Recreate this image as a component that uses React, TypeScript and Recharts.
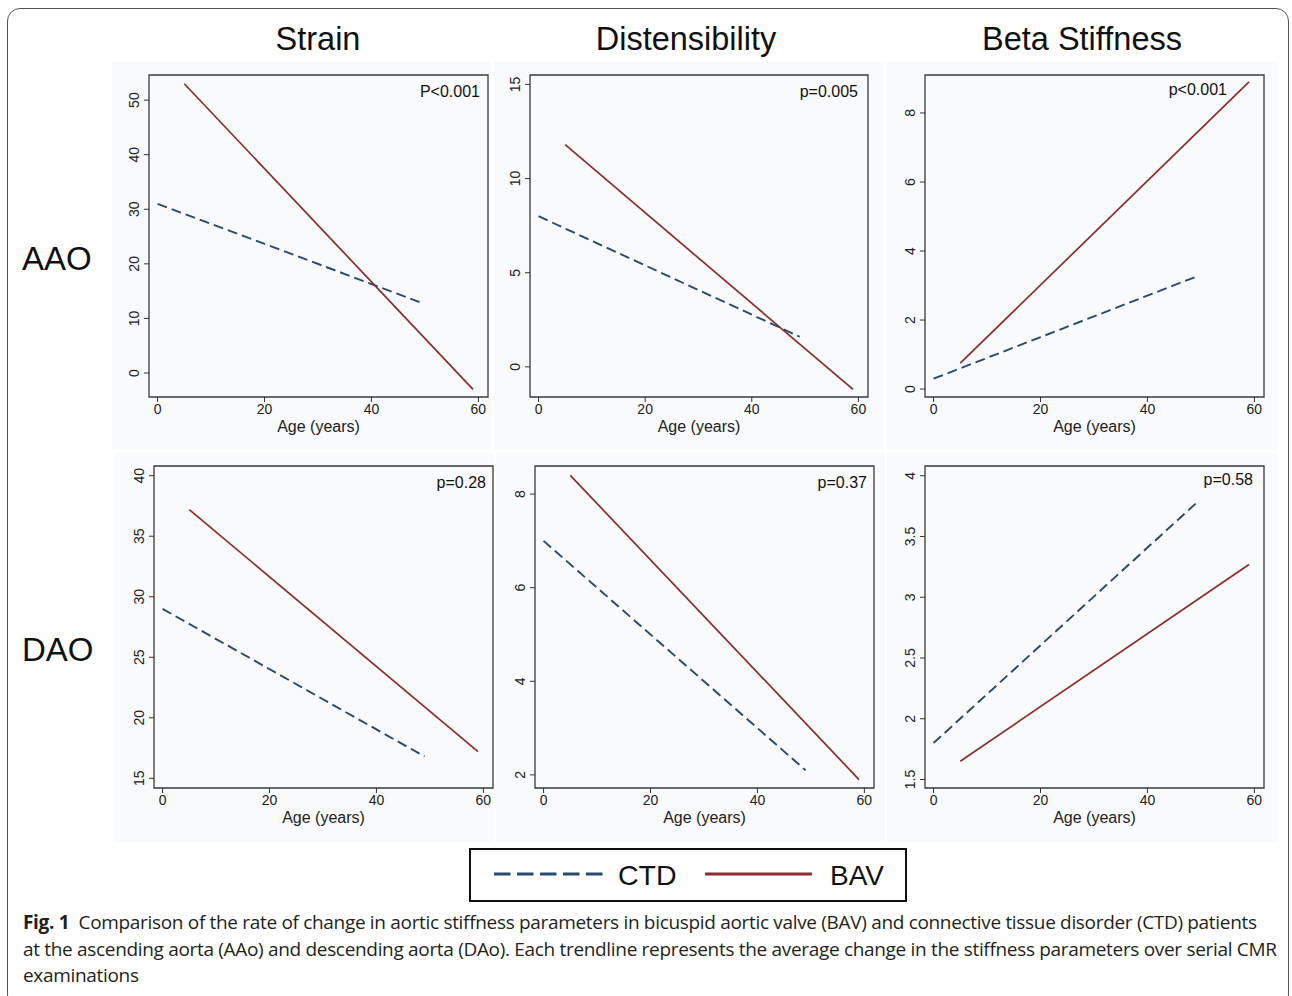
import React from 'react';
import { LineChart, Line, XAxis, YAxis, ReferenceArea } from 'recharts';

// ages at which each fitted trendline starts and ends
const AGE_CTD = [0, 49];
const AGE_BAV = [5, 59];
const AGE_TICKS = [0, 20, 40, 60];
const AGE_DOMAIN = [-1.6, 61.8];

// trendline end values
const STRAIN_AAO_CTD = [31, 13];
const STRAIN_AAO_BAV = [53, -3];
const DIST_AAO_CTD = [8, 1.6];
const DIST_AAO_BAV = [11.8, -1.2];
const BETA_AAO_CTD = [0.3, 3.25];
const BETA_AAO_BAV = [0.75, 8.9];
const STRAIN_DAO_CTD = [29, 16.8];
const STRAIN_DAO_BAV = [37.2, 17.2];
const DIST_DAO_CTD = [7, 2.1];
const DIST_DAO_BAV = [8.4, 1.9];
const BETA_DAO_CTD = [1.8, 3.77];
const BETA_DAO_BAV = [1.65, 3.27];

const STRAIN_AAO_TICKS = [0, 10, 20, 30, 40, 50];
const DIST_AAO_TICKS = [0, 5, 10, 15];
const BETA_AAO_TICKS = [0, 2, 4, 6, 8];
const STRAIN_DAO_TICKS = [15, 20, 25, 30, 35, 40];
const DIST_DAO_TICKS = [2, 4, 6, 8];
const BETA_DAO_TICKS = [1.5, 2, 2.5, 3, 3.5, 4];

const COLUMN_TITLES = ['Strain', 'Distensibility', 'Beta Stiffness'];
const ROW_TITLES = ['AAO', 'DAO'];
const P_VALUES = ['P<0.001', 'p=0.005', 'p<0.001', 'p=0.28', 'p=0.37', 'p=0.58'];

const BAV_COLOR = '#8c2b30';
const CTD_COLOR = '#264a70';
const FONT = '"Liberation Sans", Arial, sans-serif';

const toPoints = (ages: number[], vals: number[]) => ages.map((age, i) => ({ age, v: vals[i] }));

const panels = [
  { box: [149, 75, 488, 397], bg: [112, 62, 491, 450], y: [-4.4, 54.6], ticks: STRAIN_AAO_TICKS, ctd: STRAIN_AAO_CTD, bav: STRAIN_AAO_BAV, p: P_VALUES[0], pdx: 8, pdy: 10 },
  { box: [530, 75, 868, 397], bg: [494, 62, 884, 450], y: [-1.6, 15.5], ticks: DIST_AAO_TICKS, ctd: DIST_AAO_CTD, bav: DIST_AAO_BAV, p: P_VALUES[1], pdx: 10, pdy: 10 },
  { box: [925, 75, 1264, 397], bg: [887, 62, 1277, 450], y: [-0.23, 9.1], ticks: BETA_AAO_TICKS, ctd: BETA_AAO_CTD, bav: BETA_AAO_BAV, p: P_VALUES[2], pdx: 37, pdy: 8 },
  { box: [154, 466, 493, 788], bg: [115, 453, 493, 842], y: [14.2, 40.8], ticks: STRAIN_DAO_TICKS, ctd: STRAIN_DAO_CTD, bav: STRAIN_DAO_BAV, p: P_VALUES[3], pdx: 7, pdy: 10 },
  { box: [535, 466, 874, 788], bg: [496, 453, 885, 842], y: [1.72, 8.6], ticks: DIST_DAO_TICKS, ctd: DIST_DAO_CTD, bav: DIST_DAO_BAV, p: P_VALUES[4], pdx: 7, pdy: 10 },
  { box: [925, 466, 1264, 788], bg: [887, 453, 1277, 842], y: [1.43, 4.08], ticks: BETA_DAO_TICKS, ctd: BETA_DAO_CTD, bav: BETA_DAO_BAV, p: P_VALUES[5], pdx: 11, pdy: 7 },
];

const RotatedTick = (props: any) => {
  const { x, y, payload } = props;
  return (
    <text x={x} y={y} transform={`rotate(-90 ${x} ${y})`} textAnchor="middle" fontSize={14} fill="#222" fontFamily={FONT}>
      {payload.value}
    </text>
  );
};

const PAD_L = 45;
const PAD_T = 8;
const PAD_R = 8;
const PAD_B = 45;

function Panel({ cfg }: { cfg: any }) {
  const [L, T, R, B] = cfg.box;
  const w = R - L + PAD_L + PAD_R;
  const h = B - T + PAD_T + PAD_B;
  return (
    <div style={{ position: 'absolute', left: L - PAD_L, top: T - PAD_T }}>
      <LineChart width={w} height={h} margin={{ top: PAD_T, right: PAD_R, bottom: 0, left: 0 }}>
        <XAxis
          dataKey="age"
          type="number"
          domain={AGE_DOMAIN}
          ticks={AGE_TICKS}
          allowDataOverflow
          height={PAD_B}
          axisLine={false}
          tickLine={{ stroke: '#333' }}
          tickSize={5}
          tickMargin={2}
          tick={{ fontSize: 14, fill: '#222', fontFamily: FONT }}
          interval={0}
          label={{ value: 'Age (years)', position: 'insideBottom', offset: 10, fontSize: 16, fill: '#222', fontFamily: FONT }}
        />
        <YAxis
          type="number"
          domain={cfg.y}
          ticks={cfg.ticks}
          allowDataOverflow
          width={PAD_L}
          axisLine={false}
          tickLine={{ stroke: '#333' }}
          tickSize={5}
          tickMargin={5}
          interval={0}
          tick={<RotatedTick />}
        />
        <ReferenceArea
          x1={AGE_DOMAIN[0]}
          x2={AGE_DOMAIN[1]}
          y1={cfg.y[0]}
          y2={cfg.y[1]}
          fill="none"
          stroke="#3a3a3a"
          strokeWidth={1.3}
          label={{
            content: (lp: any) => {
              const vb = lp.viewBox;
              return (
                <text x={vb.x + vb.width - cfg.pdx} y={vb.y + cfg.pdy + 12} textAnchor="end" fontSize={16} fill="#111" fontFamily={FONT}>
                  {cfg.p}
                </text>
              );
            },
          }}
        />
        <Line data={toPoints(AGE_CTD, cfg.ctd)} dataKey="v" stroke={CTD_COLOR} strokeWidth={1.9} strokeDasharray="10 5" dot={false} isAnimationActive={false} />
        <Line data={toPoints(AGE_BAV, cfg.bav)} dataKey="v" stroke={BAV_COLOR} strokeWidth={1.7} dot={false} isAnimationActive={false} />
      </LineChart>
    </div>
  );
}

export default function App() {
  const colCenters = [318, 686, 1082];
  const rowTops = [242, 633];
  return (
    <div style={{ position: 'absolute', left: 0, top: 0, width: 1292, height: 996, background: '#fff', overflow: 'hidden' }}>
      <div style={{ position: 'absolute', left: 7, top: 8, width: 1282, height: 1000, border: '1.5px solid #555', borderRadius: 13, boxSizing: 'border-box' }} />
      {panels.map((p, i) => (
        <div key={'bg' + i} style={{ position: 'absolute', left: p.bg[0], top: p.bg[1], width: p.bg[2] - p.bg[0], height: p.bg[3] - p.bg[1], background: '#f9fafb' }} />
      ))}
      {COLUMN_TITLES.map((t, i) => (
        <div key={t} style={{ position: 'absolute', left: colCenters[i] - 200, width: 400, top: 22.5, textAlign: 'center', fontFamily: FONT, fontSize: 32.5, lineHeight: '32.5px', color: '#111' }}>
          {t}
        </div>
      ))}
      {ROW_TITLES.map((t, i) => (
        <div key={t} style={{ position: 'absolute', left: 22, top: rowTops[i], fontFamily: FONT, fontSize: 33, lineHeight: '33px', color: '#111' }}>
          {t}
        </div>
      ))}
      {panels.map((p, i) => (
        <Panel key={i} cfg={p} />
      ))}
      <svg style={{ position: 'absolute', left: 469, top: 848 }} width={439} height={55}>
        <rect x={1} y={1} width={436} height={52} fill="#fff" stroke="#111" strokeWidth={2} />
        <line x1={25} x2={134} y1={26} y2={26} stroke={CTD_COLOR} strokeWidth={3} strokeDasharray="16.5 6.5" />
        <text x={149} y={37} fontSize={28.5} fontFamily={FONT} fill="#111">CTD</text>
        <line x1={236} x2={343} y1={26} y2={26} stroke={BAV_COLOR} strokeWidth={3} />
        <text x={361} y={37} fontSize={28} fontFamily={FONT} fill="#111">BAV</text>
      </svg>
      <div style={{ position: 'absolute', left: 23, top: 909, fontFamily: '"Open Sans", "Noto Sans", sans-serif', fontSize: 19, lineHeight: '26.5px', color: '#231f20', whiteSpace: 'nowrap', letterSpacing: -0.32 }}>
        <div><b>Fig. 1</b>&nbsp; Comparison of the rate of change in aortic stiffness parameters in bicuspid aortic valve (BAV) and connective tissue disorder (CTD) patients</div>
        <div>at the ascending aorta (AAo) and descending aorta (DAo). Each trendline represents the average change in the stiffness parameters over serial CMR</div>
        <div>examinations</div>
      </div>
    </div>
  );
}
